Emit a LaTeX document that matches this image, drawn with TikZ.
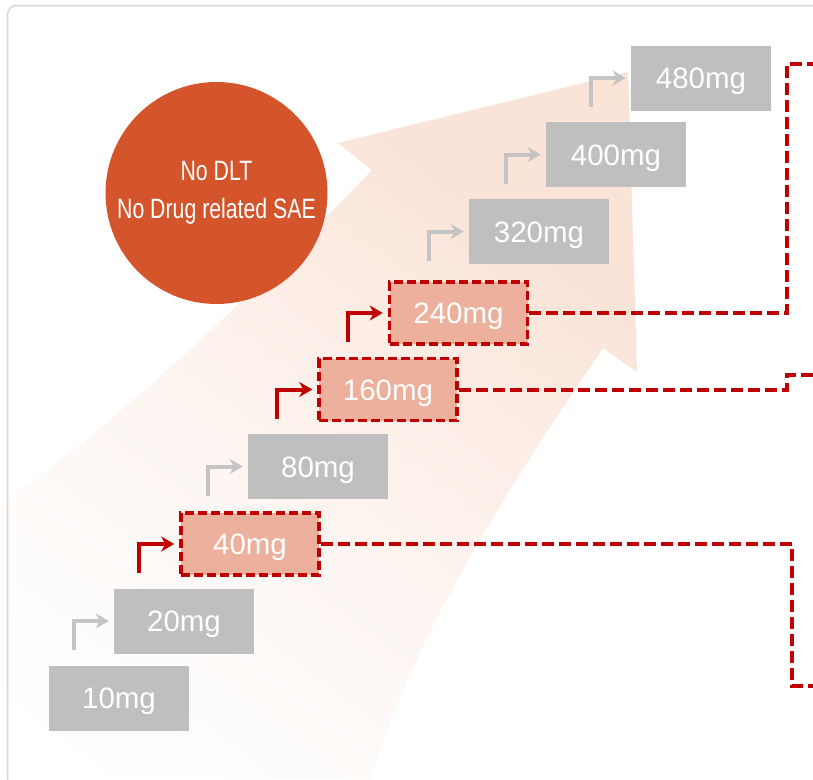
\documentclass[tikz,border=0pt]{standalone}
\usepackage{fontspec}
\setmainfont{Liberation Sans}
\newfontfamily\condfont[FakeStretch=0.76]{Liberation Sans}
\usetikzlibrary{arrows.meta,calc}
\definecolor{gboxc}{HTML}{BFBFBF}
\definecolor{garrc}{HTML}{C4C4C4}
\definecolor{redc}{HTML}{C00000}
\definecolor{salmon}{HTML}{EDB09C}
\definecolor{circc}{HTML}{D4552B}
\definecolor{framec}{HTML}{D6D6D6}
\definecolor{peach}{HTML}{FAE3D7}
\definecolor{peachlow}{HTML}{FFFFFF}
\begin{document}
\begin{tikzpicture}[x=1pt,y=-1pt,
  gbox/.style={rectangle, fill=gboxc, minimum width=140pt, minimum height=65pt, inner sep=0pt, text=white, font=\fontsize{29.5}{30}\selectfont, text height=21pt, text depth=0pt},
  rbox/.style={gbox, fill=salmon, draw=redc, line width=3.5pt, dash pattern=on 9pt off 4pt, minimum width=138pt, minimum height=62pt},
  garrow/.style={draw=garrc, line width=4pt, -{Stealth[length=13pt,width=15pt,inset=4pt]}, shorten >=5pt},
  rarrow/.style={garrow, draw=redc},
  rdash/.style={draw=redc, line width=4pt, dash pattern=on 12pt off 5pt},
  framebox/.style={draw=framec, line width=1.5pt, rounded corners=9pt}]
\clip (0,0) rectangle (813,779);
\fill[white] (0,0) rectangle (813,779);
% big background arrow, graded from white (lower left) to peach (head)
\begin{scope}
\clip (0,505) .. controls (150,400) and (300,245) .. (372,170) -- (338,143) -- (628,72) -- (637,372) -- (603,348)
  .. controls (520,470) and (420,620) .. (370,779) -- (0,779) -- cycle;
\foreach \k in {0,...,100}{
  \pgfmathsetmacro\s{-650+10*\k}
  \pgfmathsetmacro\tt{max(0,min(1,(\s+600)/740))}
  \pgfmathsetmacro\pct{100*\tt*sqrt(\tt)}
  \pgfmathsetmacro\xa{\s*0.606}
  \pgfmathsetmacro\ya{-\s*0.795}
  \fill[peach!\pct!peachlow] (\xa,\ya) -- ++(874.5,666.6) -- ++(6.36,-8.35) -- ++(-874.5,-666.6) -- cycle;
}
\end{scope}
% frame
\draw[framebox] (7.5,5.5) rectangle (900,900);
% circle
\node[circle, fill=circc, minimum size=222pt, inner sep=0pt, text=white, align=center,
  font=\condfont\fontsize{28}{38}\selectfont] (c) at (216.5,193) {No DLT\\No Drug related SAE};
% boxes
\node[gbox] (n10) at (119,698) {10mg};
\node[gbox] (n20) at (184,621) {20mg};
\node[rbox] (n40) at (250,544) {40mg};
\node[gbox] (n80) at (318,466.5) {80mg};
\node[rbox] (n160) at (388,389.5) {160mg};
\node[rbox] (n240) at (458.5,313) {240mg};
\node[gbox] (n320) at (539,231.5) {320mg};
\node[gbox] (n400) at (616,154.5) {400mg};
\node[gbox] (n480) at (701,78) {480mg};
% step arrows
\draw[garrow] ($(n20.west)+(-40,29)$) |- (n20.west);
\draw[rarrow] ($(n40.west)+(-40,29)$) |- (n40.west);
\draw[garrow] ($(n80.west)+(-40,29)$) |- (n80.west);
\draw[rarrow] ($(n160.west)+(-40,29)$) |- (n160.west);
\draw[rarrow] ($(n240.west)+(-40,29)$) |- (n240.west);
\draw[garrow] ($(n320.west)+(-40,29)$) |- (n320.west);
\draw[garrow] ($(n400.west)+(-40,29)$) |- (n400.west);
\draw[garrow] ($(n480.west)+(-40,29)$) |- (n480.west);
% dashed connectors
\coordinate (e40) at (830,686);
\coordinate (e160) at (830,375);
\coordinate (e240) at (830,64);
\draw[rdash] (n40.east) -| (792,686) -- (e40);
\draw[rdash] (n160.east) -| (787,375) -- (e160);
\draw[rdash] (n240.east) -| (787,64) -- (e240);
\end{tikzpicture}
\end{document}
